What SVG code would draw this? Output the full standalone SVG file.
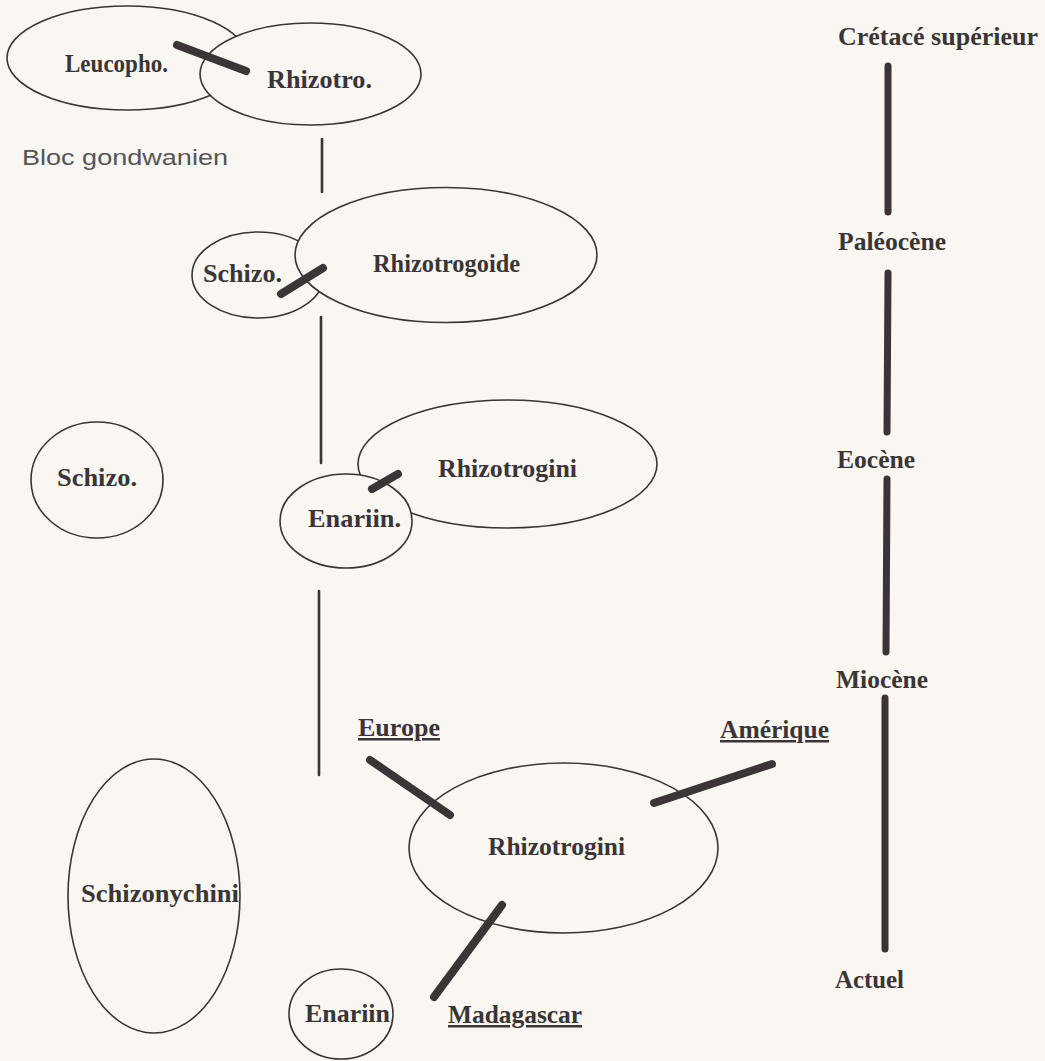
<svg xmlns="http://www.w3.org/2000/svg" width="1045" height="1061" viewBox="0 0 1045 1061">
<style>
.bg{fill:#faf7f2}
.n{fill:#faf7f2;stroke:#3a3436;stroke-width:1.6}
.t{font-family:"Liberation Serif","Times New Roman",serif;font-weight:bold;font-size:25px;fill:#3b3537}
.u{text-decoration:underline}
.s{font-family:"Liberation Sans",Arial,sans-serif;font-size:22px;fill:#555}
.stem{stroke:#3a3436;stroke-width:2.6;fill:none;stroke-linecap:round}
.bar{stroke:#3d3438;stroke-width:8;fill:none;stroke-linecap:round}
.time{stroke:#3d3238;stroke-width:7;fill:none;stroke-linecap:round}
</style>
<rect class="bg" x="0" y="0" width="1045" height="1061"/>

<g id="leucopho">
<ellipse class="n" cx="127" cy="58" rx="120" ry="52"/>
<text class="t" x="65" y="72" textLength="103" lengthAdjust="spacingAndGlyphs">Leucopho.</text>
</g>
<g id="rhizotro">
<ellipse class="n" cx="310.5" cy="74" rx="110.5" ry="51"/>
<text class="t" x="267" y="88" textLength="105" lengthAdjust="spacingAndGlyphs">Rhizotro.</text>
</g>
<g id="bloc">
<text class="s" x="22" y="165" textLength="206" lengthAdjust="spacingAndGlyphs">Bloc gondwanien</text>
</g>

<g id="schizo-1">
<ellipse class="n" cx="258" cy="275" rx="66" ry="43"/>
<text class="t" x="203" y="282" textLength="79" lengthAdjust="spacingAndGlyphs">Schizo.</text>
</g>
<g id="rhizotrogoide">
<ellipse class="n" cx="446" cy="255" rx="151" ry="67.5"/>
<text class="t" x="373" y="272" textLength="147" lengthAdjust="spacingAndGlyphs">Rhizotrogoide</text>
</g>

<g id="schizo-2">
<ellipse class="n" cx="97" cy="480" rx="66" ry="58"/>
<text class="t" x="57" y="486" textLength="80" lengthAdjust="spacingAndGlyphs">Schizo.</text>
</g>
<g id="rhizotrogini-1">
<ellipse class="n" cx="507.5" cy="464" rx="149.5" ry="64"/>
<text class="t" x="438" y="477" textLength="139" lengthAdjust="spacingAndGlyphs">Rhizotrogini</text>
</g>
<g id="enariin-1">
<ellipse class="n" cx="346" cy="521" rx="66" ry="47"/>
<text class="t" x="308" y="527" textLength="93" lengthAdjust="spacingAndGlyphs">Enariin.</text>
</g>

<g id="schizonychini">
<ellipse class="n" cx="154" cy="896" rx="86" ry="137"/>
<text class="t" x="81" y="902" textLength="158" lengthAdjust="spacingAndGlyphs">Schizonychini</text>
</g>
<g id="rhizotrogini-2">
<ellipse class="n" cx="563.5" cy="848" rx="154.5" ry="85"/>
<text class="t" x="488" y="855" textLength="137" lengthAdjust="spacingAndGlyphs">Rhizotrogini</text>
</g>
<g id="enariin-2">
<ellipse class="n" cx="341" cy="1014" rx="52" ry="45"/>
<text class="t" x="305" y="1022" textLength="85" lengthAdjust="spacingAndGlyphs">Enariin</text>
</g>
<g id="europe">
<text class="t u" x="358" y="736" textLength="82" lengthAdjust="spacingAndGlyphs">Europe</text>
</g>
<g id="amerique">
<text class="t u" x="720" y="738" textLength="109" lengthAdjust="spacingAndGlyphs">Amérique</text>
</g>
<g id="madagascar">
<text class="t u" x="448" y="1023" textLength="134" lengthAdjust="spacingAndGlyphs">Madagascar</text>
</g>

<g id="timeline-labels">
<text class="t" x="838" y="45" textLength="200" lengthAdjust="spacingAndGlyphs">Crétacé supérieur</text>
<text class="t" x="838" y="250" textLength="108" lengthAdjust="spacingAndGlyphs">Paléocène</text>
<text class="t" x="837" y="468" textLength="78" lengthAdjust="spacingAndGlyphs">Eocène</text>
<text class="t" x="836" y="688" textLength="92" lengthAdjust="spacingAndGlyphs">Miocène</text>
<text class="t" x="835" y="988" textLength="69" lengthAdjust="spacingAndGlyphs">Actuel</text>
</g>

<g id="connectors">
<line class="stem" x1="322" y1="139" x2="322" y2="192"/>
<line class="stem" x1="321" y1="317" x2="321" y2="463"/>
<line class="stem" x1="319" y1="591" x2="319" y2="775"/>
<line class="bar" x1="177" y1="45" x2="246" y2="71"/>
<line class="bar" x1="281" y1="294" x2="323" y2="268"/>
<line class="bar" x1="372" y1="489" x2="398" y2="474"/>
<line class="bar" x1="370" y1="760" x2="450" y2="815"/>
<line class="bar" x1="654" y1="803" x2="772" y2="764"/>
<line class="bar" x1="502" y1="905" x2="434" y2="997"/>
<line class="time" x1="888" y1="66" x2="888" y2="212"/>
<line class="time" x1="888" y1="273" x2="887" y2="432"/>
<line class="time" x1="887" y1="479" x2="886" y2="652"/>
<line class="time" x1="885" y1="698" x2="885" y2="949"/>
</g>
</svg>
